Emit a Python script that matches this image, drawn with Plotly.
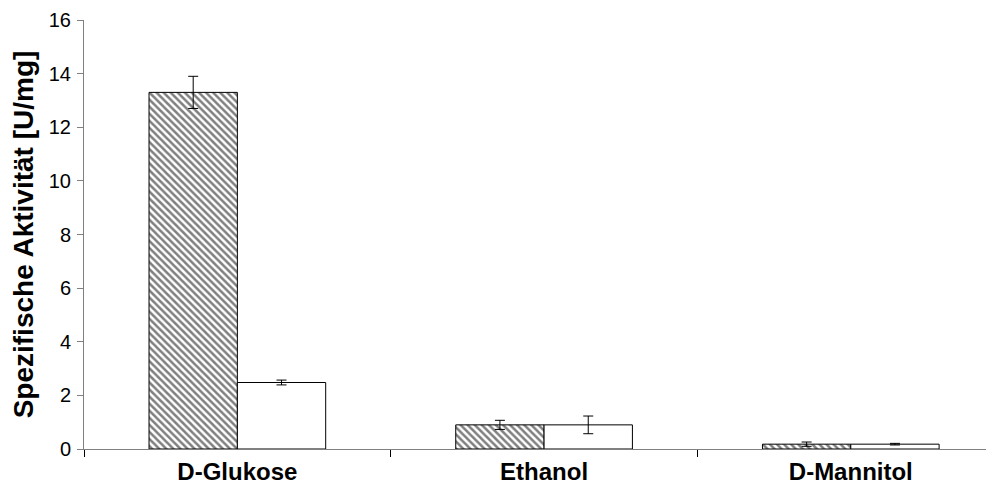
import plotly.graph_objects as go

categories = ["D-Glukose", "Ethanol", "D-Mannitol"]
series_a = [13.3, 0.9, 0.18]
series_a_err = [0.6, 0.17, 0.08]
series_b = [2.48, 0.9, 0.18]
series_b_err = [0.09, 0.33, 0.03]
y_ticks = [0, 2, 4, 6, 8, 10, 12, 14, 16]

FONT = "Arial, Liberation Sans, sans-serif"

fig = go.Figure()
fig.add_trace(go.Bar(
    x=categories, y=series_a,
    error_y=dict(type="data", array=series_a_err, color="black", thickness=1, width=5),
    marker=dict(color="white", line=dict(color="black", width=1),
                pattern=dict(shape="\\", size=5, solidity=0.5, fgcolor="#000000", bgcolor="white")),
    showlegend=False,
))
fig.add_trace(go.Bar(
    x=categories, y=series_b,
    error_y=dict(type="data", array=series_b_err, color="black", thickness=1, width=5),
    marker=dict(color="white", line=dict(color="black", width=1)),
    showlegend=False,
))

fig.update_layout(
    width=994, height=494,
    margin=dict(l=76, r=0, t=12, b=53),
    plot_bgcolor="white", paper_bgcolor="white",
    barmode="group", bargap=0.424, bargroupgap=0,
    font=dict(family=FONT, color="black"),
)
fig.update_xaxes(
    range=[-0.5, 2.493], automargin=False,
    showline=True, linecolor="#808080", linewidth=1,
    ticks="outside", tickson="boundaries", ticklen=7, tickcolor="black",
    tickfont=dict(size=24, family=FONT, color="black", weight="bold"),
    ticklabelstandoff=1,
    showgrid=False, zeroline=False,
)
fig.update_yaxes(
    range=[0, 16], tickvals=y_ticks, automargin=False,
    showline=True, linecolor="#808080", linewidth=1,
    ticks="outside", ticklen=6, tickcolor="#808080",
    tickfont=dict(size=20, family=FONT, color="black"),
    ticklabelstandoff=2,
    title=dict(text="<b>Spezifische Aktivität [U/mg]</b>", font=dict(size=28, family=FONT, color="black"), standoff=14),
    showgrid=False, zeroline=False,
)

fig.write_html("out.html")
